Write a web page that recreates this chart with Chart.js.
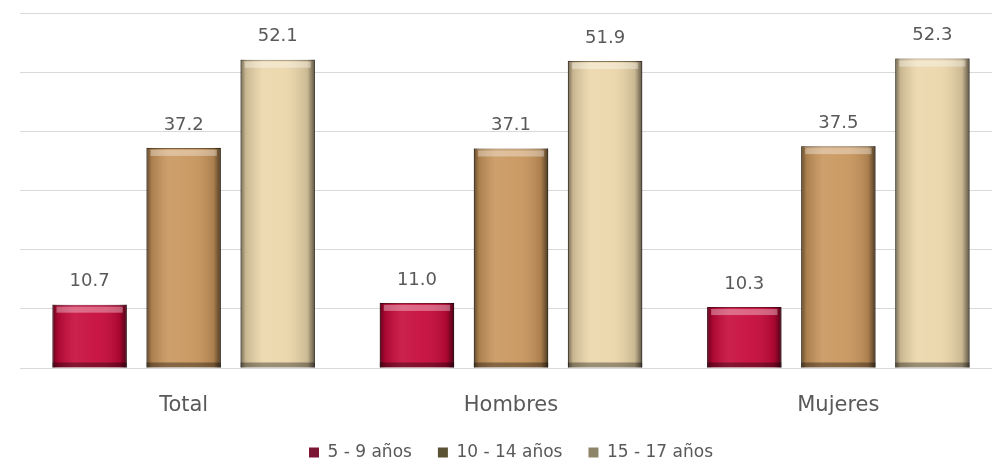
<!DOCTYPE html>
<html>
<head>
<meta charset="utf-8">
<script src="https://cdn.jsdelivr.net/npm/chart.js@4.4.1/dist/chart.umd.min.js"></script>
<style>
  html, body { margin: 0; padding: 0; background: #fff; overflow: hidden; }
  #wrap { width: 1002px; height: 464px; }
</style>
</head>
<body>
<div id="wrap"><canvas id="ageChart" width="1002" height="464"></canvas></div>
<script>
const categories = ["Total", "Hombres", "Mujeres"];
const seriesNames = ["5 - 9 años", "10 - 14 años", "15 - 17 años"];
const age5to9 = [10.7, 11.0, 10.3];
const age10to14 = [37.2, 37.1, 37.5];
const age15to17 = [52.1, 51.9, 52.3];
const labelText = [
    ["10.7", "11.0", "10.3"],
    ["37.2", "37.1", "37.5"],
    ["52.1", "51.9", "52.3"]
];

const barColors = ["#C60839", "#C8955B", "#EBD6AA"];
const edgeColors = ["#6E0A22", "#6E5432", "#7C6C50"];
const legendColors = ["#7B1734", "#5B5134", "#8E846A"];

// fake 3d look: shade the edges of each bar after it is drawn
const bevelPlugin = {
    id: "bevel",
    afterDatasetsDraw(chart) {
        const ctx = chart.ctx;
        chart.data.datasets.forEach((ds, i) => {
            const meta = chart.getDatasetMeta(i);
            meta.data.forEach(bar => {
                const p = bar.getProps(["x", "y", "base", "width"], true);
                const x0 = p.x - p.width / 2;
                const h = p.base - p.y;
                ctx.save();
                const g = ctx.createLinearGradient(x0, 0, x0 + p.width, 0);
                g.addColorStop(0, "rgba(0,0,0,0.5)");
                g.addColorStop(0.07, "rgba(0,0,0,0.15)");
                g.addColorStop(0.3, "rgba(255,255,255,0.10)");
                g.addColorStop(0.6, "rgba(255,255,255,0.06)");
                g.addColorStop(0.9, "rgba(0,0,0,0.14)");
                g.addColorStop(1, "rgba(0,0,0,0.6)");
                ctx.fillStyle = g;
                ctx.fillRect(x0, p.y, p.width, h);
                // top highlight and bottom shadow
                ctx.fillStyle = "rgba(255,255,255,0.35)";
                ctx.fillRect(x0 + 4, p.y + 2, p.width - 8, 6);
                ctx.fillStyle = "rgba(0,0,0,0.35)";
                ctx.fillRect(x0, p.base - 5, p.width, 5);
                ctx.restore();
            });
        });
    }
};

const valueLabels = {
    id: "valueLabels",
    afterDatasetsDraw(chart) {
        const ctx = chart.ctx;
        ctx.save();
        ctx.font = "18px 'DejaVu Sans'";
        ctx.fillStyle = "#595959";
        ctx.textAlign = "center";
        ctx.textBaseline = "middle";
        chart.data.datasets.forEach((ds, i) => {
            chart.getDatasetMeta(i).data.forEach((bar, j) => {
                ctx.fillText(labelText[i][j], bar.x, bar.y - 23);
            });
        });
        ctx.restore();
    }
};

new Chart(document.getElementById("ageChart"), {
    type: "bar",
    data: {
        labels: categories,
        datasets: [age5to9, age10to14, age15to17].map((vals, i) => ({
            label: seriesNames[i],
            data: vals,
            backgroundColor: barColors[i],
            borderColor: edgeColors[i],
            borderWidth: 1,
            categoryPercentage: 0.862,
            barPercentage: 0.79
        }))
    },
    options: {
        responsive: false,
        animation: false,
        layout: { padding: { left: 20, right: 0, top: 13, bottom: -7 } },
        plugins: {
            tooltip: { enabled: false },
            legend: {
                position: "bottom",
                labels: {
                    color: "#595959",
                    font: { family: "DejaVu Sans", size: 17 },
                    boxWidth: 10,
                    boxHeight: 10,
                    padding: 26,
                    generateLabels: chart => chart.data.datasets.map((ds, i) => ({
                        text: ds.label,
                        fillStyle: legendColors[i],
                        strokeStyle: legendColors[i],
                        fontColor: "#595959",
                        lineWidth: 0,
                        datasetIndex: i
                    }))
                }
            }
        },
        scales: {
            x: {
                grid: { display: false, drawTicks: false },
                border: { display: false },
                ticks: {
                    color: "#595959",
                    font: { family: "DejaVu Sans", size: 21 },
                    padding: 25
                },
                afterFit(scale) { scale.height = 50; }
            },
            y: {
                min: 0,
                max: 60,
                grid: { color: "#D9D9D9", lineWidth: 1, drawTicks: false },
                border: { display: false },
                ticks: { display: false, stepSize: 10 }
            }
        }
    },
    plugins: [bevelPlugin, valueLabels]
});
</script>
</body>
</html>
